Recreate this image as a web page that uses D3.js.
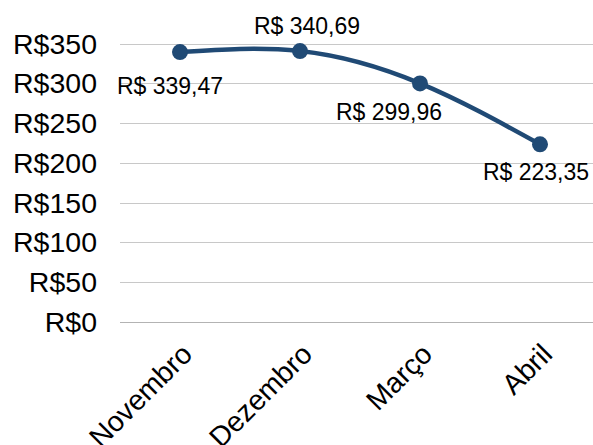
<!DOCTYPE html>
<html>
<head>
<meta charset="utf-8">
<script src="https://cdn.jsdelivr.net/npm/d3@7"></script>
<style>
	body { margin: 0; background: #fff; }
	text { font-family: "Liberation Sans", Arial, sans-serif; fill: #000; }
</style>
</head>
<body>
<svg id="chart" width="593" height="445"></svg>
<script>
// Chart data
const months = ["Novembro", "Dezembro", "Março", "Abril"]
const values = [339.47, 340.69, 299.96, 223.35]
const yTicks = [0, 50, 100, 150, 200, 250, 300, 350]

// Label placement relative to each point (layout, not data)
const labelOffsets = [[-10, 42], [7, -17], [-31, 37], [-4, 36]]

const margin = { top: 43.7, left: 120, bottom: 321.7 }
const svg = d3.select("#chart")

const x = d3.scaleBand()
	.domain(months)
	.range([margin.left, 600])

const y = d3.scaleLinear()
	.domain([0, 350])
	.range([margin.bottom, margin.top])

const fmtTick = v => "R$" + v
const fmtLabel = v => "R$ " + v.toFixed(2).replace(".", ",")

// Gridlines
svg.append("g")
	.selectAll("line")
	.data(yTicks)
	.join("line")
	.attr("x1", margin.left)
	.attr("x2", 600)
	.attr("y1", d => Math.round(y(d)) + 0.5)
	.attr("y2", d => Math.round(y(d)) + 0.5)
	.style("stroke", d => d === 0 ? "#b3b3b3" : "#c8c8c8")
	.style("stroke-width", 1)

// Y axis labels
svg.append("g")
	.selectAll("text")
	.data(yTicks)
	.join("text")
	.attr("x", 97)
	.attr("y", d => y(d))
	.attr("dy", "0.35em")
	.attr("text-anchor", "end")
	.style("font-size", "28.5px")
	.text(fmtTick)

// X axis labels, rotated
svg.append("g")
	.selectAll("text")
	.data(months)
	.join("text")
	.attr("text-anchor", "end")
	.attr("transform", d => `translate(${x(d) + x.bandwidth() / 2 + 14}, 356) rotate(-45)`)
	.style("font-size", "28.5px")
	.text(d => d)

const points = months.map((m, i) => ({ month: m, value: values[i], off: labelOffsets[i] }))

const line = d3.line()
	.x(d => x(d.month) + x.bandwidth() / 2)
	.y(d => y(d.value))
	.curve(d3.curveNatural)

svg.append("path")
	.datum(points)
	.attr("d", line)
	.style("fill", "none")
	.style("stroke", "#204a75")
	.style("stroke-width", 4.5)

svg.append("g")
	.selectAll("circle")
	.data(points)
	.join("circle")
	.attr("cx", d => x(d.month) + x.bandwidth() / 2)
	.attr("cy", d => y(d.value))
	.attr("r", 8)
	.style("fill", "#204a75")

// Data labels
svg.append("g")
	.selectAll("text")
	.data(points)
	.join("text")
	.attr("x", d => x(d.month) + x.bandwidth() / 2 + d.off[0])
	.attr("y", d => y(d.value) + d.off[1])
	.attr("text-anchor", "middle")
	.style("font-size", "23px")
	.text(d => fmtLabel(d.value))
</script>
</body>
</html>
